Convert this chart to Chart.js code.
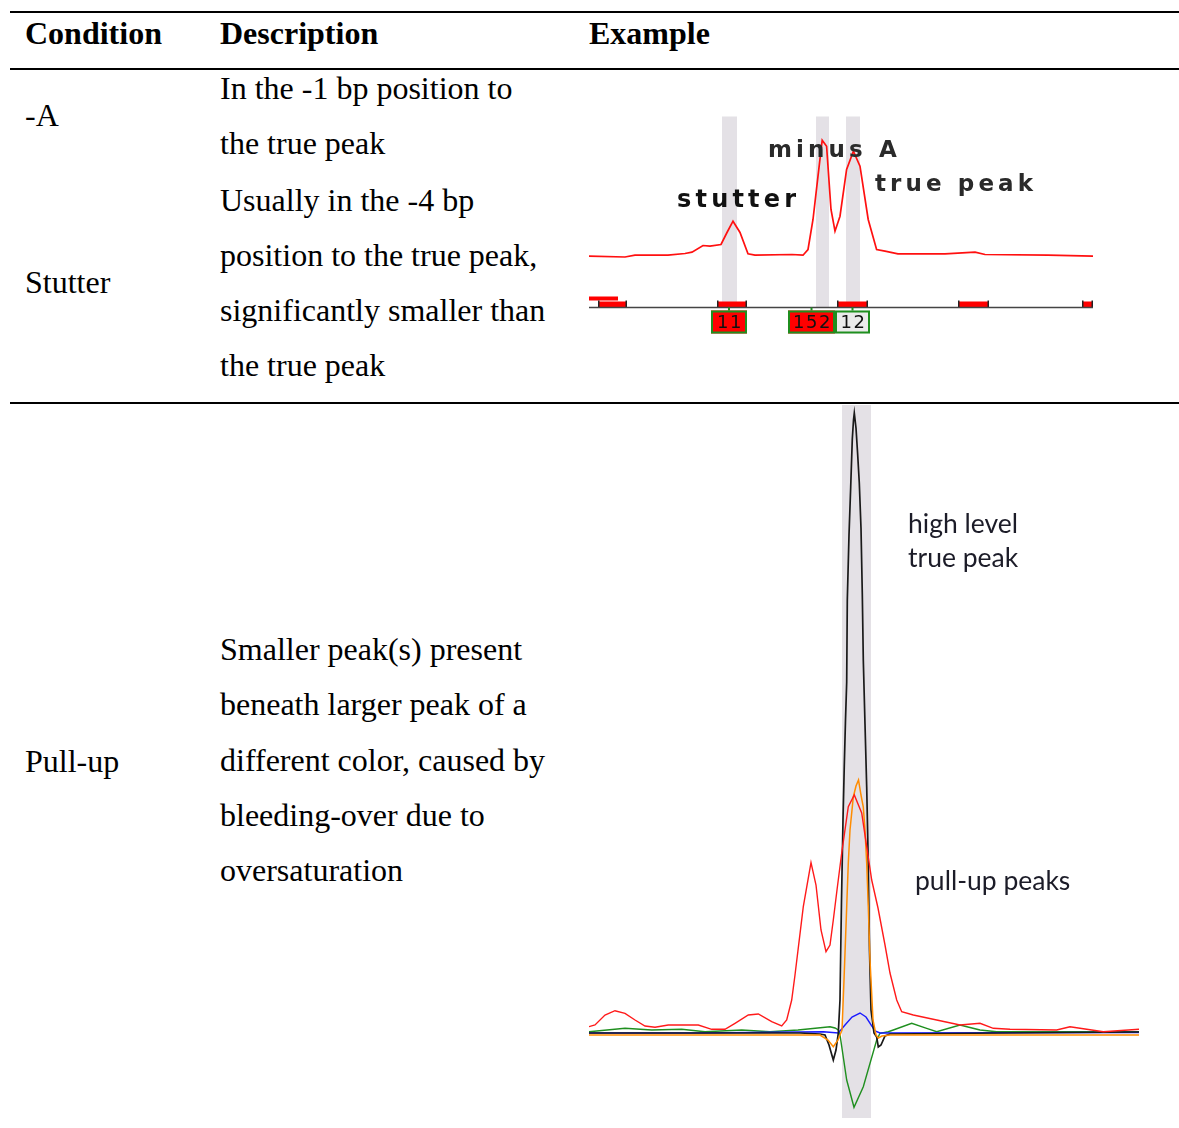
<!DOCTYPE html>
<html>
<head>
<meta charset="utf-8">
<script src="https://cdn.jsdelivr.net/npm/chart.js@4.4.1/dist/chart.umd.min.js"></script>
<style>
  html, body { margin: 0; padding: 0; background: #fff; }
  body { width: 1179px; height: 1128px; position: relative; overflow: hidden; }
  .rule { position: absolute; left: 10px; width: 1169px; height: 2px; background: #000; }
  .txt { position: absolute; white-space: nowrap; line-height: 40px; }
  .serif { font-family: "Liberation Serif", "Times New Roman", serif; font-size: 32px; color: #000; }
  .bold { font-weight: bold; }
  .ep { font-family: "DejaVu Sans", Verdana, sans-serif; font-weight: bold; font-size: 23px; letter-spacing: 4.1px; color: #2a2a2a; }
  .ep.dark { color: #111; font-size: 24px; letter-spacing: 4.2px; }
  .note { font-family: Lato, "Open Sans", sans-serif; font-size: 26.5px; color: #1c1c28; }
  canvas { position: absolute; }
</style>
</head>
<body>
<div class="rule" style="top:11px"></div>
<div class="rule" style="top:68px"></div>
<div class="rule" style="top:402px"></div>

<div class="txt serif bold" data-x="25" data-base="44">Condition</div>
<div class="txt serif bold" data-x="220" data-base="44">Description</div>
<div class="txt serif bold" data-x="589" data-base="44">Example</div>

<div class="txt serif" data-x="25" data-base="126">-A</div>
<div class="txt serif" data-x="25" data-base="293">Stutter</div>
<div class="txt serif" data-x="220" data-base="99">In the -1 bp position to</div>
<div class="txt serif" data-x="220" data-base="154">the true peak</div>
<div class="txt serif" data-x="220" data-base="211">Usually in the -4 bp</div>
<div class="txt serif" data-x="220" data-base="266">position to the true peak,</div>
<div class="txt serif" data-x="220" data-base="321">significantly smaller than</div>
<div class="txt serif" data-x="220" data-base="376">the true peak</div>

<div class="txt serif" data-x="25" data-base="772">Pull-up</div>
<div class="txt serif" data-x="220" data-base="660">Smaller peak(s) present</div>
<div class="txt serif" data-x="220" data-base="715">beneath larger peak of a</div>
<div class="txt serif" data-x="220" data-base="771">different color, caused by</div>
<div class="txt serif" data-x="220" data-base="826">bleeding-over due to</div>
<div class="txt serif" data-x="220" data-base="881">oversaturation</div>

<canvas id="stutterChart" width="504" height="230" style="left:589px;top:110px"></canvas>
<canvas id="pullupChart" width="550" height="713" style="left:589px;top:405px"></canvas>

<div class="txt ep dark" data-x="677" data-base="207">stutter</div>
<div class="txt ep" data-x="768" data-base="157">minus A</div>
<div class="txt ep" data-x="875" data-base="191">true peak</div>
<div class="txt note" data-x="908" data-base="533">high level</div>
<div class="txt note" data-x="908" data-base="567">true peak</div>
<div class="txt note" data-x="915" data-base="890">pull-up peaks</div>

<script>
// ---- stutter / minus A panel (red dye) ----
const stutterScan = [0, 9, 11.5, 19.75, 24, 25.75, 28.5, 30.25, 33, 34.5, 36, 37.75, 39.75, 41.5,
    50.75, 53.5, 54.75, 56, 57.25, 58.3, 59.4, 60.5, 61.5, 62.75, 64.4, 66.1, 67.75, 69.8,
    71.9, 74, 77.25, 89, 96.5, 99, 114.75, 126];
const stutterRfu = [-2, -10, 8, 8, 25, 38, 105, 98, 115, 235, 348, 235, 22, 8,
    15, 8, 65, 365, 798, 1158, 1098, 465, 248, 398, 865, 1048, 898, 365,
    65, 48, 22, 22, 38, 15, 8, -2];
const stutterBands = [[33.25, 37], [56.75, 60], [64.25, 67.75]];
const stutterBins = [[2.25, 9.5], [32, 39.5], [62, 69.75], [92.25, 100], [123.25, 126]];
const stutterUpperBins = [[-1, 7.25]];
const alleleLabels = ['11', '152', '12'];
const alleleFrom = [30.5, 49.75, 61.5];
const alleleTo = [39.5, 61.5, 70.25];
const alleleCalled = [true, true, false];

// ---- pull-up panel (all dyes) ----
const blackScan = [0, 22.2, 42.2, 46.2, 47.2, 48, 48.86, 49.4, 49.86, 50.2, 50.5, 50.8, 51.06, 51.3,
    51.54, 51.66, 52, 52.34, 52.66, 52.9, 53.06, 53.4, 53.74, 54.06, 54.4, 54.66, 54.86, 55.2,
    55.54, 55.8, 56.1, 56.4, 57, 57.54, 57.86, 58.4, 59.2, 60.2, 82.2, 110];
const blackRfu = [-5, -5, -5, -15, -25, -125, -275, -175, -5, 325, 1325, 2125, 2675, 3125,
    3505, 4325, 4975, 5455, 5935, 6125, 6195, 6045, 5775, 5495, 5045, 4385, 3725, 3085,
    2455, 1825, 825, 225, -5, -45, -145, -125, -35, -15, -5, 5];
const orangeScan = [0, 22.2, 46.2, 47.8, 48.86, 49.8, 50.6, 51, 51.54, 51.86, 52.2, 52.86, 53.4,
    53.9, 54.4, 54.86, 55.2, 55.54, 55.86, 56.2, 56.8, 57.4, 57.86, 58.6, 60.2, 110];
const orangeRfu = [-25, -25, -25, -75, -142, -75, 25, 525, 1255, 1695, 2025, 2355, 2465,
    2525, 2375, 2255, 2025, 1695, 1255, 725, 125, -25, -55, -35, -25, -25];
const redScan = [0, 1.2, 3.2, 5.2, 7.2, 9.2, 11.2, 13.2, 15.86, 21.86, 24.54, 27.2, 29.2, 31.86,
    33.86, 36.54, 38.54, 39.54, 40.54, 41.2, 42.86, 44.4, 45.4, 46.4, 47.4, 48.2, 48.86, 49.6,
    50.54, 51.86, 53.06, 54.54, 55.54, 56.54, 57.8, 59.2, 60.2, 61.54, 62.54, 64.86, 69.54,
    74.2, 78.2, 80.86, 84.2, 93.54, 96.2, 99.54, 102.86, 110];
const redRfu = [58, 75, 175, 218, 192, 125, 65, 52, 75, 75, 32, 32, 92, 175,
    185, 108, 65, 125, 325, 575, 1258, 1698, 1475, 1025, 808, 875, 1125, 1425,
    1795, 2258, 2375, 2195, 1858, 1525, 1245, 875, 595, 325, 208, 175, 125,
    75, 92, 42, 32, 25, 58, 32, 8, 32];
const greenScan = [0, 7.2, 12.54, 18.54, 23.2, 30.54, 36.2, 41.8, 48.2, 49.2, 49.86, 50.2, 51.54,
    53, 54.86, 57.54, 58.2, 59.86, 60.86, 64.54, 67.54, 69.54, 74.2, 78.2, 81.54, 110];
const greenRfu = [8, 42, 25, 32, 8, 25, 8, 25, 58, 45, 25, -25, -475,
    -748, -542, -75, -8, 8, 25, 92, 42, 8, 75, 25, 8, 8];
const blueScan = [0, 22.2, 46.86, 49.86, 51.2, 52.6, 54.2, 55.4, 57.2, 58.2, 110];
const blueRfu = [-5, -5, 8, -5, 75, 155, 195, 155, 15, -5, 0];
const pullupBands = [[50.6, 56.4]];

const toPoints = (xs, ys) => xs.map((x, i) => ({ x: x, y: ys[i] }));

// place html labels so that their baseline lands where asked
const measureCtx = document.createElement('canvas').getContext('2d');
document.querySelectorAll('.txt').forEach(el => {
    const cs = getComputedStyle(el);
    measureCtx.font = cs.fontWeight + ' ' + cs.fontSize + ' ' + cs.fontFamily;
    const m = measureCtx.measureText(el.textContent);
    const lh = parseFloat(cs.lineHeight);
    const asc = m.fontBoundingBoxAscent, desc = m.fontBoundingBoxDescent;
    el.style.left = el.dataset.x + 'px';
    el.style.top = (parseFloat(el.dataset.base) - (lh - asc - desc) / 2 - asc) + 'px';
});

const bandFill = '#e4e1e6';

// bins, axis and allele call boxes under the red trace
const stutterDecor = {
    id: 'stutterDecor',
    beforeDatasetsDraw(chart) {
        const { ctx, scales: { x, y } } = chart;
        ctx.save();
        ctx.fillStyle = bandFill;
        stutterBands.forEach(([a, b]) => {
            const x0 = x.getPixelForValue(a);
            const x1 = x.getPixelForValue(b);
            ctx.fillRect(x0, y.getPixelForValue(1395), x1 - x0, y.getPixelForValue(-510) - y.getPixelForValue(1395));
        });
        ctx.restore();
    },
    afterDatasetsDraw(chart) {
        const { ctx, scales: { x, y } } = chart;
        const axisY = Math.round(y.getPixelForValue(-510)) + 0.5;
        ctx.save();
        ctx.fillStyle = '#ff0000';
        stutterUpperBins.forEach(([a, b]) => {
            const x0 = x.getPixelForValue(a);
            ctx.fillRect(x0, y.getPixelForValue(-405), x.getPixelForValue(b) - x0, y.getPixelForValue(-445) - y.getPixelForValue(-405));
        });
        stutterBins.forEach(([a, b]) => {
            const x0 = x.getPixelForValue(a);
            const x1 = x.getPixelForValue(b);
            ctx.fillStyle = '#ff0000';
            ctx.fillRect(x0, y.getPixelForValue(-455), x1 - x0, axisY - y.getPixelForValue(-455));
            ctx.fillStyle = '#222';
            ctx.fillRect(Math.round(x0), y.getPixelForValue(-445), 1.5, axisY - y.getPixelForValue(-445));
            ctx.fillRect(Math.round(x1) - 1.5, y.getPixelForValue(-445), 1.5, axisY - y.getPixelForValue(-445));
        });
        ctx.strokeStyle = '#444';
        ctx.lineWidth = 1.5;
        ctx.beginPath();
        ctx.moveTo(x.left, axisY);
        ctx.lineTo(x.right, axisY);
        ctx.stroke();

        const top = y.getPixelForValue(-545);
        const bottom = y.getPixelForValue(-775);
        ctx.font = '18px "DejaVu Sans", sans-serif';
        ctx.letterSpacing = '1.5px';
        ctx.textAlign = 'center';
        ctx.textBaseline = 'middle';
        alleleLabels.forEach((label, i) => {
            const x0 = x.getPixelForValue(alleleFrom[i]);
            const x1 = x.getPixelForValue(alleleTo[i]);
            const mid = (x0 + x1) / 2;
            ctx.fillStyle = alleleCalled[i] ? '#ff0000' : '#ebebeb';
            ctx.fillRect(x0, top, x1 - x0, bottom - top);
            ctx.strokeStyle = '#1f8f1f';
            ctx.lineWidth = 2;
            ctx.strokeRect(x0 + 1, top + 1, x1 - x0 - 2, bottom - top - 2);
            ctx.beginPath();
            ctx.moveTo(mid, axisY);
            ctx.lineTo(mid, top);
            ctx.stroke();
            ctx.fillStyle = '#111';
            ctx.fillText(label, mid + 1, (top + bottom) / 2 + 1);
        });
        ctx.restore();
    }
};

const pullupDecor = {
    id: 'pullupDecor',
    beforeDatasetsDraw(chart) {
        const { ctx, chartArea, scales: { x } } = chart;
        ctx.save();
        ctx.fillStyle = bandFill;
        pullupBands.forEach(([a, b]) => {
            const x0 = x.getPixelForValue(a);
            ctx.fillRect(x0, chartArea.top, x.getPixelForValue(b) - x0, chartArea.bottom - chartArea.top);
        });
        ctx.restore();
    }
};

const baseOptions = (xMax, yMin, yMax) => ({
    responsive: false,
    animation: false,
    devicePixelRatio: 1,
    layout: { padding: 0 },
    plugins: { legend: { display: false }, tooltip: { enabled: false } },
    elements: { point: { radius: 0 }, line: { tension: 0 } },
    scales: {
        x: { type: 'linear', min: 0, max: xMax, display: false },
        y: { type: 'linear', min: yMin, max: yMax, display: false }
    }
});

new Chart(document.getElementById('stutterChart').getContext('2d'), {
    type: 'line',
    data: {
        datasets: [{
            data: toPoints(stutterScan, stutterRfu),
            borderColor: '#ff1010',
            borderWidth: 1.7,
            fill: false
        }]
    },
    options: baseOptions(126, -840, 1460),
    plugins: [stutterDecor]
});

const trace = (xs, ys, color, order, width) => ({
    data: toPoints(xs, ys),
    borderColor: color,
    borderWidth: width,
    fill: false,
    order: order
});

new Chart(document.getElementById('pullupChart').getContext('2d'), {
    type: 'line',
    data: {
        datasets: [
            trace(redScan, redRfu, '#ff1a1a', 1, 1.4),
            trace(orangeScan, orangeRfu, '#ff8c00', 2, 1.5),
            trace(blackScan, blackRfu, '#1a1a1a', 3, 1.7),
            trace(blueScan, blueRfu, '#1a1aff', 4, 1.4),
            trace(greenScan, greenRfu, '#1f8f1f', 5, 1.4)
        ]
    },
    options: baseOptions(110, -855, 6275),
    plugins: [pullupDecor]
});
</script>
</body>
</html>
